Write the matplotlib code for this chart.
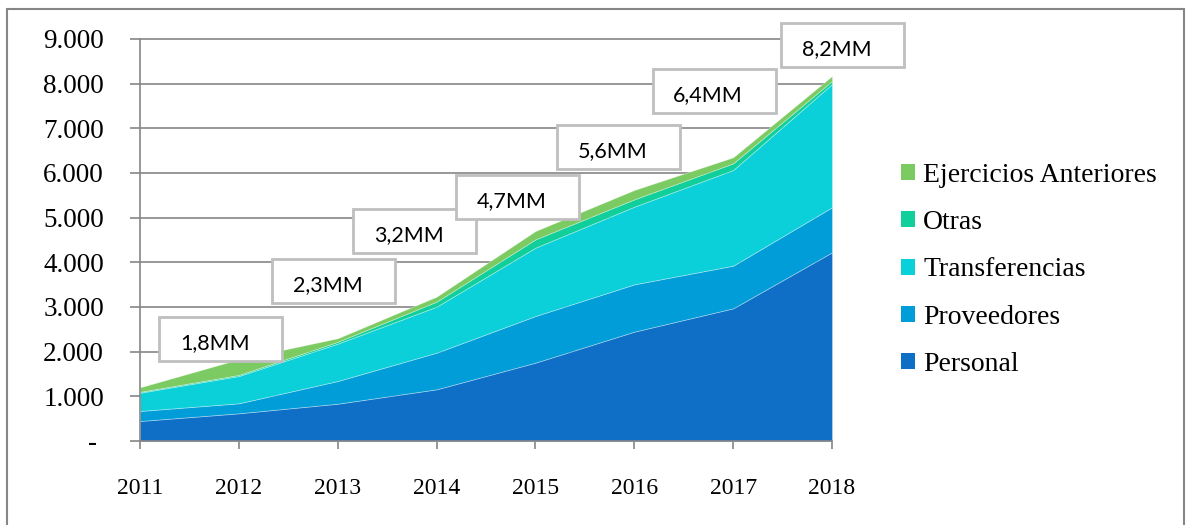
import matplotlib
matplotlib.use("Agg")
import matplotlib.pyplot as plt
from matplotlib.patches import Rectangle
from matplotlib.transforms import IdentityTransform

# ==========================================
# DATOS (millones)
# ==========================================
anios = [2011, 2012, 2013, 2014, 2015, 2016, 2017, 2018]
personal = [448, 620, 835, 1157, 1754, 2448, 2970, 4224]
proveedores = [224, 224, 508, 820, 1044, 1059, 955, 1008]
transferencias = [409, 611, 837, 1030, 1530, 1739, 2142, 2760]
otras = [20, 25, 40, 112, 186, 164, 149, 67]
ejercicios_ant = [100, 350, 80, 112, 187, 209, 135, 112]

series_nombres = ["Personal", "Proveedores", "Transferencias", "Otras", "Ejercicios Anteriores"]
colores = ["#0F6FC6", "#009DD9", "#0BD0D9", "#10CF9B", "#7CCA62"]

etiquetas_anios = [2012, 2013, 2014, 2015, 2016, 2017, 2018]
etiquetas_texto = ["1,8MM", "2,3MM", "3,2MM", "4,7MM", "5,6MM", "6,4MM", "8,2MM"]
# desplazamiento de cada caja respecto al punto (pixeles)
etiquetas_offset = [(-18, 20), (-4, 57), (-22, 66), (-18, 34), (-16, 43), (-19, 66), (11, 31)]

y_ticks = [0, 1000, 2000, 3000, 4000, 5000, 6000, 7000, 8000, 9000]
y_labels = ["- ", "1.000", "2.000", "3.000", "4.000", "5.000", "6.000", "7.000", "8.000", "9.000"]

GRIS = "#868686"
W, H = 1187, 525

fig = plt.figure(figsize=(W / 100, H / 100), dpi=100)
ax = fig.add_axes([140 / W, 1 - 441 / H, (832 - 140) / W, (441 - 39) / H])

ax.hlines(y_ticks[1:], 2011, 2018, colors=GRIS, linewidth=1.2, zorder=0, clip_on=False)

stacks = ax.stackplot(anios, personal, proveedores, transferencias, otras, ejercicios_ant,
                      colors=colores, labels=series_nombres, zorder=2,
                      edgecolor=(1, 1, 1, 0.35), linewidth=0.6)

ax.set_xlim(2011, 2018)
ax.set_ylim(0, 9000)
ax.set_xticks(anios)
ax.set_xticklabels([str(a) for a in anios], fontsize=17, family="Liberation Serif")
ax.set_yticks(y_ticks)
ax.set_yticklabels(y_labels, fontsize=19.5, family="Liberation Serif")
ax.tick_params(axis="x", direction="out", length=6, width=1.2, color=GRIS, pad=21)
ax.tick_params(axis="y", direction="out", length=7, width=1.2, color=GRIS, pad=19)

for s in ["top", "right"]:
    ax.spines[s].set_visible(False)
for s in ["left", "bottom"]:
    ax.spines[s].set_color(GRIS)
    ax.spines[s].set_linewidth(1.2)
ax.spines["left"].set_zorder(3)

# cajas de totales
totales = [sum(v) for v in zip(personal, proveedores, transferencias, otras, ejercicios_ant)]
bw, bh = 123, 44
for anio, txt, (dx, dy) in zip(etiquetas_anios, etiquetas_texto, etiquetas_offset):
    tot = totales[anios.index(anio)]
    px, py = ax.transData.transform((anio, tot))
    cx, cy = px + dx, py + dy
    fig.add_artist(Rectangle((cx - bw / 2, cy - bh / 2), bw, bh, transform=IdentityTransform(),
                             facecolor="white", edgecolor="#BFBFBF", linewidth=2, zorder=5))
    fig.text((cx - 6) / W, (cy - 4) / H, txt, ha="center", va="center", fontsize=15.5,
             family="Lato", color="#000000", zorder=6)

# leyenda
handles = [Rectangle((0, 0), 1, 1, facecolor=c) for c in colores][::-1]
leg = fig.legend(handles, series_nombres[::-1], loc="upper left",
                 bbox_to_anchor=(876 / W, 1 - 138 / H), frameon=False,
                 prop={"family": "Liberation Serif", "size": 20},
                 handlelength=0.5, handleheight=0.5, handletextpad=0.3, labelspacing=0.8)

# marco exterior
fig.add_artist(Rectangle((7 / W, -0.05), (1184 - 7) / W, 1.05 - 9 / H, transform=fig.transFigure,
                         fill=False, edgecolor=GRIS, linewidth=1.5))

fig.savefig("out.png", dpi=100)
